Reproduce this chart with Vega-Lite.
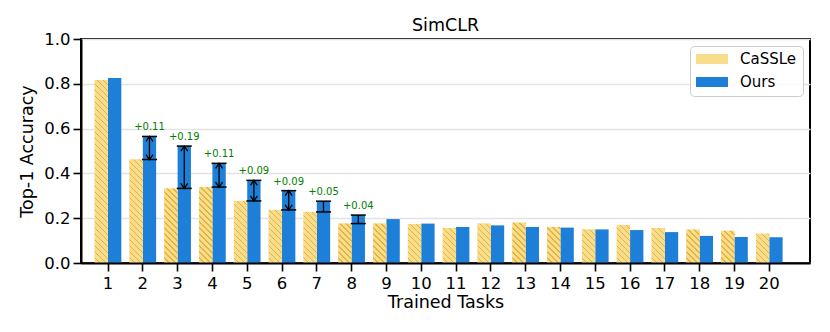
{
  "$schema": "https://vega.github.io/schema/vega-lite/v6.json",
  "autosize": "none",
  "width": 729,
  "height": 224,
  "padding": {"left": 81, "top": 39, "right": 20, "bottom": 69},
  "background": "white",
  "title": {"text": "SimCLR", "fontSize": 17.5, "fontWeight": "normal", "color": "black", "font": "DejaVu Sans", "offset": -3, "frame": "group"},
  "datasets": {
    "bars": [
      {"task": 1, "method": "CaSSLe", "acc": 0.817}, {"task": 1, "method": "Ours", "acc": 0.826},
      {"task": 2, "method": "CaSSLe", "acc": 0.462}, {"task": 2, "method": "Ours", "acc": 0.565},
      {"task": 3, "method": "CaSSLe", "acc": 0.333}, {"task": 3, "method": "Ours", "acc": 0.522},
      {"task": 4, "method": "CaSSLe", "acc": 0.339}, {"task": 4, "method": "Ours", "acc": 0.445},
      {"task": 5, "method": "CaSSLe", "acc": 0.277}, {"task": 5, "method": "Ours", "acc": 0.369},
      {"task": 6, "method": "CaSSLe", "acc": 0.237}, {"task": 6, "method": "Ours", "acc": 0.323},
      {"task": 7, "method": "CaSSLe", "acc": 0.228}, {"task": 7, "method": "Ours", "acc": 0.276},
      {"task": 8, "method": "CaSSLe", "acc": 0.176}, {"task": 8, "method": "Ours", "acc": 0.214},
      {"task": 9, "method": "CaSSLe", "acc": 0.176}, {"task": 9, "method": "Ours", "acc": 0.196},
      {"task": 10, "method": "CaSSLe", "acc": 0.174}, {"task": 10, "method": "Ours", "acc": 0.176},
      {"task": 11, "method": "CaSSLe", "acc": 0.156}, {"task": 11, "method": "Ours", "acc": 0.161},
      {"task": 12, "method": "CaSSLe", "acc": 0.176}, {"task": 12, "method": "Ours", "acc": 0.168},
      {"task": 13, "method": "CaSSLe", "acc": 0.180}, {"task": 13, "method": "Ours", "acc": 0.161},
      {"task": 14, "method": "CaSSLe", "acc": 0.161}, {"task": 14, "method": "Ours", "acc": 0.158},
      {"task": 15, "method": "CaSSLe", "acc": 0.150}, {"task": 15, "method": "Ours", "acc": 0.150},
      {"task": 16, "method": "CaSSLe", "acc": 0.170}, {"task": 16, "method": "Ours", "acc": 0.147},
      {"task": 17, "method": "CaSSLe", "acc": 0.156}, {"task": 17, "method": "Ours", "acc": 0.138},
      {"task": 18, "method": "CaSSLe", "acc": 0.149}, {"task": 18, "method": "Ours", "acc": 0.121},
      {"task": 19, "method": "CaSSLe", "acc": 0.144}, {"task": 19, "method": "Ours", "acc": 0.116},
      {"task": 20, "method": "CaSSLe", "acc": 0.131}, {"task": 20, "method": "Ours", "acc": 0.115}
    ],
    "gains": [
      {"task": 2, "method": "Ours", "base": 0.462, "top": 0.565, "gain": "+0.11"},
      {"task": 3, "method": "Ours", "base": 0.333, "top": 0.522, "gain": "+0.19"},
      {"task": 4, "method": "Ours", "base": 0.339, "top": 0.445, "gain": "+0.11"},
      {"task": 5, "method": "Ours", "base": 0.277, "top": 0.369, "gain": "+0.09"},
      {"task": 6, "method": "Ours", "base": 0.237, "top": 0.323, "gain": "+0.09"},
      {"task": 7, "method": "Ours", "base": 0.228, "top": 0.276, "gain": "+0.05"},
      {"task": 8, "method": "Ours", "base": 0.176, "top": 0.214, "gain": "+0.04"}
    ]
  },
  "encoding": {
    "x": {
      "field": "task", "type": "ordinal",
      "scale": {"domain": [1,2,3,4,5,6,7,8,9,10,11,12,13,14,15,16,17,18,19,20], "paddingInner": 0.234, "paddingOuter": 0.59, "align": 0.333},
      "axis": {"title": "Trained Tasks", "labelAngle": 0, "zindex": 1}
    },
    "xOffset": {"field": "method", "type": "nominal", "scale": {"domain": ["CaSSLe", "Ours"], "paddingInner": 0, "paddingOuter": 0}}
  },
  "layer": [
    {
      "data": {"name": "bars"},
      "mark": {"type": "bar"},
      "encoding": {
        "y": {"field": "acc", "type": "quantitative", "scale": {"domain": [0, 1], "nice": false}, "axis": {"title": "Top-1 Accuracy", "values": [0, 0.2, 0.4, 0.6, 0.8, 1.0], "format": ".1f"}},
        "color": {
          "field": "method", "type": "nominal",
          "scale": {"domain": ["CaSSLe", "Ours"], "range": ["#f8dd8d", "#1e7fd8"]},
          "legend": {
            "title": null, "orient": "none", "legendX": 609, "legendY": 7,
            "fillColor": "rgba(255,255,255,0.85)", "strokeColor": "#cccccc", "cornerRadius": 4, "padding": 6,
            "labelFontSize": 15, "labelColor": "black", "labelFont": "DejaVu Sans",
            "symbolType": "M-1,-0.3125H1V0.3125H-1Z", "symbolSize": 1024, "symbolStrokeWidth": 0, "labelOffset": 12, "rowPadding": 8, "clipHeight": 14,
            "encode": {"symbols": {"update": {"fill": {"signal": "datum.value === 'CaSSLe' ? {gradient:'linear',x1:0,y1:1,x2:5.808,y2:-0.815,stops:[{offset:0,color:'#f8dd8d'},{offset:0.02265,color:'#f8dd8d'},{offset:0.02265,color:'#e6b43e'},{offset:0.02941,color:'#e6b43e'},{offset:0.02941,color:'#f8dd8d'},{offset:0.05206,color:'#f8dd8d'},{offset:0.05206,color:'#e6b43e'},{offset:0.05882,color:'#e6b43e'},{offset:0.05882,color:'#f8dd8d'},{offset:0.08147,color:'#f8dd8d'},{offset:0.08147,color:'#e6b43e'},{offset:0.08824,color:'#e6b43e'},{offset:0.08824,color:'#f8dd8d'},{offset:0.11089,color:'#f8dd8d'},{offset:0.11089,color:'#e6b43e'},{offset:0.11765,color:'#e6b43e'},{offset:0.11765,color:'#f8dd8d'},{offset:0.1403,color:'#f8dd8d'},{offset:0.1403,color:'#e6b43e'},{offset:0.14706,color:'#e6b43e'},{offset:0.14706,color:'#f8dd8d'},{offset:0.16971,color:'#f8dd8d'},{offset:0.16971,color:'#e6b43e'},{offset:0.17647,color:'#e6b43e'},{offset:0.17647,color:'#f8dd8d'},{offset:0.19912,color:'#f8dd8d'},{offset:0.19912,color:'#e6b43e'},{offset:0.20588,color:'#e6b43e'},{offset:0.20588,color:'#f8dd8d'},{offset:0.22853,color:'#f8dd8d'},{offset:0.22853,color:'#e6b43e'},{offset:0.23529,color:'#e6b43e'},{offset:0.23529,color:'#f8dd8d'},{offset:0.25794,color:'#f8dd8d'},{offset:0.25794,color:'#e6b43e'},{offset:0.26471,color:'#e6b43e'},{offset:0.26471,color:'#f8dd8d'},{offset:0.28736,color:'#f8dd8d'},{offset:0.28736,color:'#e6b43e'},{offset:0.29412,color:'#e6b43e'},{offset:0.29412,color:'#f8dd8d'},{offset:0.31677,color:'#f8dd8d'},{offset:0.31677,color:'#e6b43e'},{offset:0.32353,color:'#e6b43e'},{offset:0.32353,color:'#f8dd8d'},{offset:0.34618,color:'#f8dd8d'},{offset:0.34618,color:'#e6b43e'},{offset:0.35294,color:'#e6b43e'},{offset:0.35294,color:'#f8dd8d'},{offset:0.37559,color:'#f8dd8d'},{offset:0.37559,color:'#e6b43e'},{offset:0.38235,color:'#e6b43e'},{offset:0.38235,color:'#f8dd8d'},{offset:0.405,color:'#f8dd8d'},{offset:0.405,color:'#e6b43e'},{offset:0.41176,color:'#e6b43e'},{offset:0.41176,color:'#f8dd8d'},{offset:1,color:'#f8dd8d'}]} : '#1e7fd8'"}}}}
          }
        }
      }
    },
    {
      "data": {"name": "bars"},
      "transform": [{"filter": "datum.method === 'CaSSLe'"}],
      "mark": {"type": "bar", "fill": {"expr": "{gradient:'linear',x1:0,y1:1,x2:204*13.33/(177.7+pow(datum.acc*224,2)),y2:1-204*datum.acc*224/(177.7+pow(datum.acc*224,2)),stops:[{offset:0,color:'#f8dd8d'},{offset:0.02265,color:'#f8dd8d'},{offset:0.02265,color:'#e6b43e'},{offset:0.02941,color:'#e6b43e'},{offset:0.02941,color:'#f8dd8d'},{offset:0.05206,color:'#f8dd8d'},{offset:0.05206,color:'#e6b43e'},{offset:0.05882,color:'#e6b43e'},{offset:0.05882,color:'#f8dd8d'},{offset:0.08147,color:'#f8dd8d'},{offset:0.08147,color:'#e6b43e'},{offset:0.08824,color:'#e6b43e'},{offset:0.08824,color:'#f8dd8d'},{offset:0.11089,color:'#f8dd8d'},{offset:0.11089,color:'#e6b43e'},{offset:0.11765,color:'#e6b43e'},{offset:0.11765,color:'#f8dd8d'},{offset:0.1403,color:'#f8dd8d'},{offset:0.1403,color:'#e6b43e'},{offset:0.14706,color:'#e6b43e'},{offset:0.14706,color:'#f8dd8d'},{offset:0.16971,color:'#f8dd8d'},{offset:0.16971,color:'#e6b43e'},{offset:0.17647,color:'#e6b43e'},{offset:0.17647,color:'#f8dd8d'},{offset:0.19912,color:'#f8dd8d'},{offset:0.19912,color:'#e6b43e'},{offset:0.20588,color:'#e6b43e'},{offset:0.20588,color:'#f8dd8d'},{offset:0.22853,color:'#f8dd8d'},{offset:0.22853,color:'#e6b43e'},{offset:0.23529,color:'#e6b43e'},{offset:0.23529,color:'#f8dd8d'},{offset:0.25794,color:'#f8dd8d'},{offset:0.25794,color:'#e6b43e'},{offset:0.26471,color:'#e6b43e'},{offset:0.26471,color:'#f8dd8d'},{offset:0.28736,color:'#f8dd8d'},{offset:0.28736,color:'#e6b43e'},{offset:0.29412,color:'#e6b43e'},{offset:0.29412,color:'#f8dd8d'},{offset:0.31677,color:'#f8dd8d'},{offset:0.31677,color:'#e6b43e'},{offset:0.32353,color:'#e6b43e'},{offset:0.32353,color:'#f8dd8d'},{offset:0.34618,color:'#f8dd8d'},{offset:0.34618,color:'#e6b43e'},{offset:0.35294,color:'#e6b43e'},{offset:0.35294,color:'#f8dd8d'},{offset:0.37559,color:'#f8dd8d'},{offset:0.37559,color:'#e6b43e'},{offset:0.38235,color:'#e6b43e'},{offset:0.38235,color:'#f8dd8d'},{offset:0.405,color:'#f8dd8d'},{offset:0.405,color:'#e6b43e'},{offset:0.41176,color:'#e6b43e'},{offset:0.41176,color:'#f8dd8d'},{offset:0.43441,color:'#f8dd8d'},{offset:0.43441,color:'#e6b43e'},{offset:0.44118,color:'#e6b43e'},{offset:0.44118,color:'#f8dd8d'},{offset:0.46383,color:'#f8dd8d'},{offset:0.46383,color:'#e6b43e'},{offset:0.47059,color:'#e6b43e'},{offset:0.47059,color:'#f8dd8d'},{offset:0.49324,color:'#f8dd8d'},{offset:0.49324,color:'#e6b43e'},{offset:0.5,color:'#e6b43e'},{offset:0.5,color:'#f8dd8d'},{offset:0.52265,color:'#f8dd8d'},{offset:0.52265,color:'#e6b43e'},{offset:0.52941,color:'#e6b43e'},{offset:0.52941,color:'#f8dd8d'},{offset:0.55206,color:'#f8dd8d'},{offset:0.55206,color:'#e6b43e'},{offset:0.55882,color:'#e6b43e'},{offset:0.55882,color:'#f8dd8d'},{offset:0.58147,color:'#f8dd8d'},{offset:0.58147,color:'#e6b43e'},{offset:0.58824,color:'#e6b43e'},{offset:0.58824,color:'#f8dd8d'},{offset:0.61089,color:'#f8dd8d'},{offset:0.61089,color:'#e6b43e'},{offset:0.61765,color:'#e6b43e'},{offset:0.61765,color:'#f8dd8d'},{offset:0.6403,color:'#f8dd8d'},{offset:0.6403,color:'#e6b43e'},{offset:0.64706,color:'#e6b43e'},{offset:0.64706,color:'#f8dd8d'},{offset:0.66971,color:'#f8dd8d'},{offset:0.66971,color:'#e6b43e'},{offset:0.67647,color:'#e6b43e'},{offset:0.67647,color:'#f8dd8d'},{offset:0.69912,color:'#f8dd8d'},{offset:0.69912,color:'#e6b43e'},{offset:0.70588,color:'#e6b43e'},{offset:0.70588,color:'#f8dd8d'},{offset:0.72853,color:'#f8dd8d'},{offset:0.72853,color:'#e6b43e'},{offset:0.73529,color:'#e6b43e'},{offset:0.73529,color:'#f8dd8d'},{offset:0.75794,color:'#f8dd8d'},{offset:0.75794,color:'#e6b43e'},{offset:0.76471,color:'#e6b43e'},{offset:0.76471,color:'#f8dd8d'},{offset:0.78736,color:'#f8dd8d'},{offset:0.78736,color:'#e6b43e'},{offset:0.79412,color:'#e6b43e'},{offset:0.79412,color:'#f8dd8d'},{offset:0.81677,color:'#f8dd8d'},{offset:0.81677,color:'#e6b43e'},{offset:0.82353,color:'#e6b43e'},{offset:0.82353,color:'#f8dd8d'},{offset:0.84618,color:'#f8dd8d'},{offset:0.84618,color:'#e6b43e'},{offset:0.85294,color:'#e6b43e'},{offset:0.85294,color:'#f8dd8d'},{offset:0.87559,color:'#f8dd8d'},{offset:0.87559,color:'#e6b43e'},{offset:0.88235,color:'#e6b43e'},{offset:0.88235,color:'#f8dd8d'},{offset:0.905,color:'#f8dd8d'},{offset:0.905,color:'#e6b43e'},{offset:0.91176,color:'#e6b43e'},{offset:0.91176,color:'#f8dd8d'},{offset:0.93441,color:'#f8dd8d'},{offset:0.93441,color:'#e6b43e'},{offset:0.94118,color:'#e6b43e'},{offset:0.94118,color:'#f8dd8d'},{offset:0.96383,color:'#f8dd8d'},{offset:0.96383,color:'#e6b43e'},{offset:0.97059,color:'#e6b43e'},{offset:0.97059,color:'#f8dd8d'},{offset:0.99324,color:'#f8dd8d'},{offset:0.99324,color:'#e6b43e'},{offset:1,color:'#e6b43e'}]}"}},
      "encoding": {
        "y": {"field": "acc", "type": "quantitative"}
      }
    },
    {
      "data": {"name": "gains"},
      "mark": {"type": "tick", "orient": "horizontal", "size": 15, "thickness": 1.5, "color": "black", "opacity": 1},
      "encoding": {"y": {"field": "top", "type": "quantitative"}}
    },
    {
      "data": {"name": "gains"},
      "mark": {"type": "tick", "orient": "horizontal", "size": 15, "thickness": 1.5, "color": "black", "opacity": 1},
      "encoding": {"y": {"field": "base", "type": "quantitative"}}
    },
    {
      "data": {"name": "gains"},
      "mark": {"type": "rule", "color": "black", "strokeWidth": 1.3},
      "encoding": {"y": {"field": "base", "type": "quantitative"}, "y2": {"field": "top"}}
    },
    {
      "data": {"name": "gains"},
      "transform": [{"filter": "datum.task <= 6"}],
      "mark": {"type": "point", "shape": "M-0.7,1L0,0L0.7,1", "size": 100, "filled": false, "color": "black", "strokeWidth": 1.3, "opacity": 1},
      "encoding": {"y": {"field": "top", "type": "quantitative"}}
    },
    {
      "data": {"name": "gains"},
      "transform": [{"filter": "datum.task <= 6"}],
      "mark": {"type": "point", "shape": "M-0.7,-1L0,0L0.7,-1", "size": 100, "filled": false, "color": "black", "strokeWidth": 1.3, "opacity": 1},
      "encoding": {"y": {"field": "base", "type": "quantitative"}}
    },
    {
      "data": {"name": "gains"},
      "mark": {"type": "text", "fontSize": 10, "color": "#008000", "baseline": "alphabetic", "dy": -6, "font": "DejaVu Sans"},
      "encoding": {"y": {"field": "top", "type": "quantitative"}, "text": {"field": "gain"}}
    }
  ],
  "config": {
    "font": "DejaVu Sans",
    "view": {"stroke": "black", "strokeWidth": 2},
    "axis": {"domainColor": "black", "domainWidth": 2, "tickColor": "black", "tickWidth": 1.6, "tickSize": 8, "labelFontSize": 16.5, "labelColor": "black", "labelFont": "DejaVu Sans", "titleFontSize": 17.5, "titleFontWeight": "normal", "titleColor": "black", "titleFont": "DejaVu Sans"},
    "axisY": {"grid": true, "gridColor": "#e3e3e3", "gridWidth": 1.5, "labelPadding": 3, "titlePadding": 7},
    "axisX": {"grid": false, "labelPadding": 4, "titlePadding": 2}
  }
}
